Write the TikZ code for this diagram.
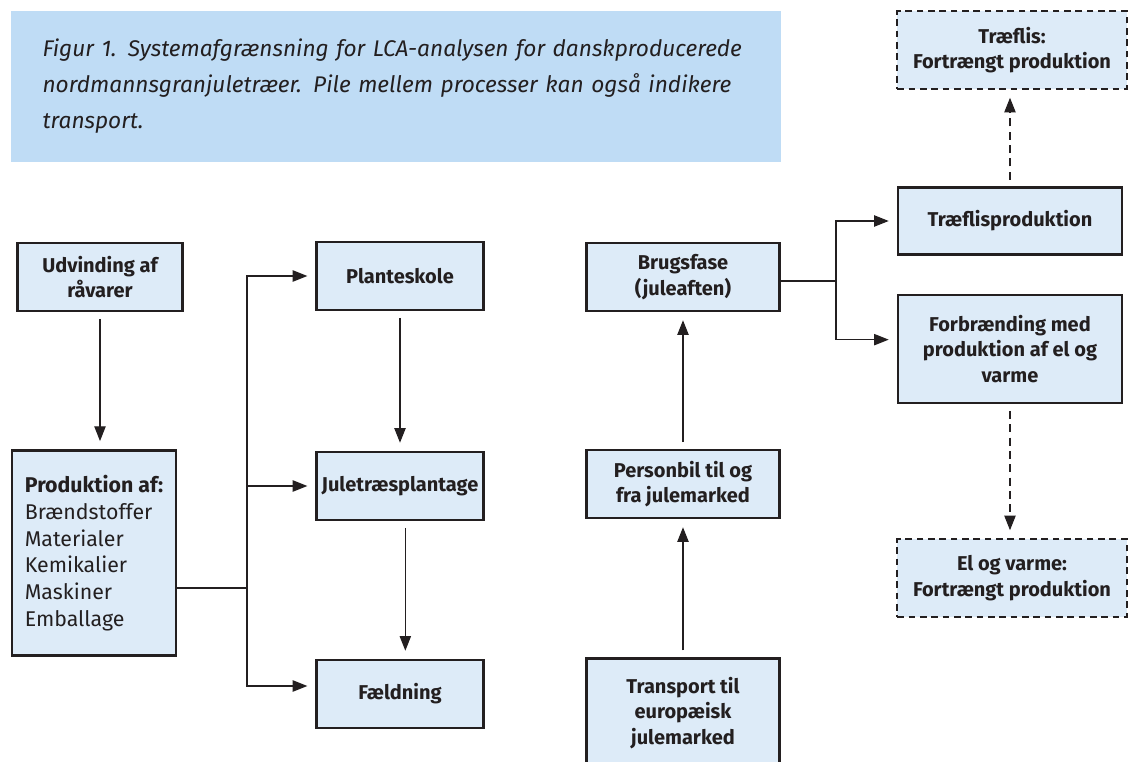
\documentclass[tikz,border=0pt]{standalone}
\usepackage{fontspec}
\setmainfont{Fira Sans}
\usetikzlibrary{arrows.meta, positioning}
\definecolor{boxblue}{HTML}{DDEBF8}
\definecolor{capblue}{HTML}{BFDCF5}
\definecolor{ink}{HTML}{231F20}

\begin{document}
\begin{tikzpicture}[x=0.75pt, y=-0.75pt,
  proc/.style={rectangle, draw=ink, fill=boxblue, line width=1.9pt, align=center,
    font=\fontsize{15}{19}\selectfont\bfseries, inner sep=1pt, text=ink},
  avoided/.style={proc, dash pattern=on 5pt off 3.5pt, line width=1.6pt},
  flow/.style={-{Triangle[length=11pt, width=8.5pt]}, ink, line width=0.9pt,
    shorten <=5pt, shorten >=6pt},
  credit/.style={flow, dash pattern=on 6pt off 4pt}
]
\useasboundingbox (0,0) rectangle (1133,762);
\node[fill=capblue, anchor=north west, minimum width=577pt, minimum height=113pt,
  text width=530pt, align=left, inner xsep=22pt, text=ink,
  font=\fontsize{17}{27}\selectfont\itshape] (caption) at (11,11)
  {Figur 1. Systemafgrænsning for LCA-analysen for danskproducerede\\
   nordmannsgranjuletræer. Pile mellem processer kan også indikere\\
   transport.};

\node[proc, minimum width=124pt, minimum height=51pt] (udv) at (100,277) {Udvinding af\\råvarer};
\node[proc, minimum width=123pt, minimum height=154pt, align=left,
  font=\fontsize{16}{20}\selectfont] (prod) at (94,553)
  {\textbf{Produktion af:}\\Brændstoffer\\Materialer\\Kemikalier\\Maskiner\\Emballage};
\node[proc, minimum width=125pt, minimum height=51pt] (plant) at (400,276) {Planteskole};
\node[proc, minimum width=125pt, minimum height=51pt] (jule) at (400,486) {Juletræsplantage};
\node[proc, minimum width=125pt, minimum height=51pt] (fald) at (400,694) {Fældning};
\node[proc, minimum width=145pt, minimum height=51pt] (brug) at (683,277) {Brugsfase\\(juleaften)};
\node[proc, minimum width=145pt, minimum height=51pt] (pers) at (683,484) {Personbil til og\\fra julemarked};
\node[proc, minimum width=145pt, minimum height=82pt] (trans) at (683,713) {Transport til\\europæisk\\julemarked};
\node[proc, minimum width=168pt, minimum height=50pt] (flisprod) at (1010,221) {Træflisproduktion};
\node[proc, minimum width=168pt, minimum height=81pt] (forbr) at (1010,349) {Forbrænding med\\produktion af el og\\varme};
\node[avoided, minimum width=172pt, minimum height=58pt] (flis) at (1012,50) {Træflis:\\Fortrængt produktion};
\node[avoided, minimum width=172pt, minimum height=58pt] (elvarme) at (1012,578) {El og varme:\\Fortrængt produktion};

% forgreninger
\coordinate (split) at (247,588);
\coordinate (fork) at (836,281);

\draw[flow] (udv) -- (udv |- prod.north);
\draw[ink, line width=0.9pt] (prod.east |- split) -- (split);
\draw[flow, shorten <=0pt] (split) |- (plant);
\draw[flow, shorten <=0pt] (split) |- (jule);
\draw[flow, shorten <=0pt] (split) |- ([yshift=6pt]fald.west);
\draw[flow] (plant) -- (jule);
\draw[flow] ([xshift=4pt]jule.south) -- ([xshift=4pt]fald.north);
\draw[flow] (trans) -- (pers);
\draw[flow] (pers) -- (brug);
\draw[ink, line width=0.9pt] (brug.east |- fork) -- (fork);
\draw[flow, shorten <=0pt] (fork) |- (flisprod);
\draw[flow, shorten <=0pt] (fork) |- ([yshift=7pt]forbr.west);
\draw[credit] (flisprod.north) -- (flisprod.north |- flis.south);
\draw[credit] (forbr.south) -- (forbr.south |- elvarme.north);
\end{tikzpicture}
\end{document}
